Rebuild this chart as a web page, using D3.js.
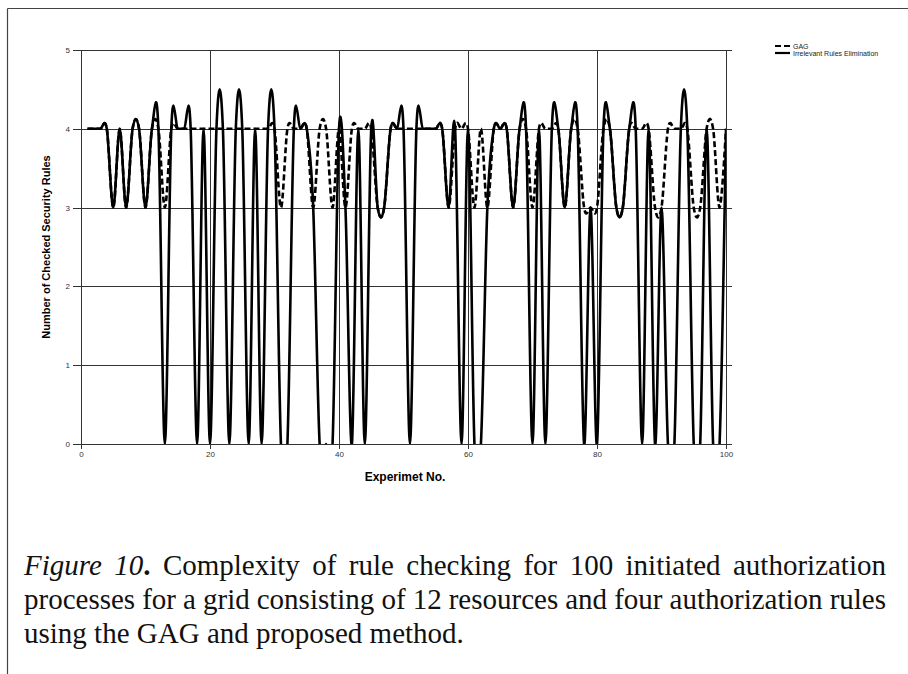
<!DOCTYPE html>
<html><head><meta charset="utf-8">
<script src="https://cdn.jsdelivr.net/npm/d3@7/dist/d3.min.js"></script>
<style>
html,body{margin:0;padding:0;background:#fff;}
svg{display:block;}
</style></head>
<body>
<svg id="chart" width="908" height="674"></svg>
<script>
// ---- data ----
const experiments = d3.range(1, 101);
const gagValues = [
 4,4,4,4,3,4,3,4,4,3, 4,4,3,4,4,4,4,4,4,4,
 4,4,4,4,4,4,4,4,4,4, 3,4,4,4,4,3,4,4,3,4,
 3,4,4,4,4,3,3,4,4,4, 4,4,4,4,4,4,3,4,4,4,
 3,4,3,4,4,4,3,4,4,3, 4,4,4,4,3,4,4,3,3,3,
 4,4,3,3,4,4,4,4,3,3, 4,4,4,4,3,3,4,4,3,4
];
const ireValues = [
 4,4,4,4,3,4,3,4,4,3, 4,4,0,4,4,4,4,0,4,0,
 4,4,0,4,4,0,4,0,4,4, 0,0,4,4,4,3,0,0,0,4,
 3,0,4,0,4,3,3,4,4,4, 0,4,4,4,4,4,3,4,0,4,
 0,0,3,4,4,4,3,4,4,0, 4,0,4,4,3,4,4,0,3,0,
 4,4,3,3,4,4,0,4,0,3, 0,0,4,4,0,0,4,0,0,4
];
const seriesNames = ["GAG", "Irrelevant Rules Elimination"];
const xTicks = [0, 20, 40, 60, 80, 100];
const yTicks = [0, 1, 2, 3, 4, 5];
const captionLines = [
  {justify: true, words: [[["Figure","i"]],[["10","i"],[".","b"]],[["Complexity"]],[["of"]],[["rule"]],[["checking"]],[["for"]],[["100"]],[["initiated"]],[["authorization"]]]},
  {justify: true, words: [[["processes"]],[["for"]],[["a"]],[["grid"]],[["consisting"]],[["of"]],[["12"]],[["resources"]],[["and"]],[["four"]],[["authorization"]],[["rules"]]]},
  {justify: false, words: [[["using"]],[["the"]],[["GAG"]],[["and"]],[["proposed"]],[["method."]]]}
];

// ---- layout ----
const svg = d3.select("#chart");
const W = 908, H = 674;
const x = d3.scaleLinear().domain([0, 100]).range([81, 726]);
const y = d3.scaleLinear().domain([0, 5]).range([444, 50]);

// page frame
svg.append("line").attr("x1",7.5).attr("x2",W).attr("y1",8.5).attr("y2",8.5).attr("stroke","#444").attr("stroke-width",1.2);
svg.append("line").attr("x1",7.5).attr("x2",7.5).attr("y1",8.5).attr("y2",H).attr("stroke","#444").attr("stroke-width",1.2);

// grid
const grid = svg.append("g");
grid.selectAll("line.h").data(yTicks).join("line")
  .attr("x1", x(0) - 8).attr("x2", x(100) + 6)
  .attr("y1", d => Math.round(y(d)) + 0.5).attr("y2", d => Math.round(y(d)) + 0.5)
  .attr("stroke", "#333").attr("stroke-width", 1);
grid.selectAll("line.v").data(xTicks).join("line")
  .attr("x1", d => Math.round(x(d)) + 0.5).attr("x2", d => Math.round(x(d)) + 0.5)
  .attr("y1", y(5)).attr("y2", y(0) + 5)
  .attr("stroke", "#333").attr("stroke-width", 1);

// axes (labels only, lines drawn by grid)
const yAxis = svg.append("g").attr("transform", `translate(${x(0)},0)`)
  .call(d3.axisLeft(y).tickValues(yTicks).tickSize(0).tickPadding(11).tickFormat(d3.format("d")));
const xAxis = svg.append("g").attr("transform", `translate(0,${y(0)})`)
  .call(d3.axisBottom(x).tickValues(xTicks).tickSize(0).tickPadding(7).tickFormat(d3.format("d")));
[yAxis, xAxis].forEach(a => {
  a.select(".domain").remove();
  a.selectAll("text").attr("font-family", "'Liberation Sans', Arial, sans-serif")
    .attr("font-size", 8).attr("fill", "#333");
});

// clip
svg.append("clipPath").attr("id", "plotClip").append("rect")
  .attr("x", x(0)).attr("y", y(5) - 2).attr("width", x(100) - x(0)).attr("height", y(0) - y(5) + 2);

const line = d3.line()
  .x((d, i) => x(experiments[i]))
  .y(d => y(d))
  .curve(d3.curveCardinal.tension(0));

const plot = svg.append("g").attr("clip-path", "url(#plotClip)");
plot.append("path").datum(gagValues).attr("d", line)
  .attr("fill", "none").attr("stroke", "#000").attr("stroke-width", 2.6)
  .attr("stroke-dasharray", "6,3");
plot.append("path").datum(ireValues).attr("d", line)
  .attr("fill", "none").attr("stroke", "#000").attr("stroke-width", 2.6)
  .attr("stroke-linejoin", "round");

// axis titles
svg.append("text").attr("x", 405).attr("y", 481).attr("text-anchor", "middle")
  .attr("font-family", "'Liberation Sans', Arial, sans-serif").attr("font-weight", "bold")
  .attr("font-size", 12).text("Experimet No.");
svg.append("text").attr("transform", "translate(50,247) rotate(-90)").attr("text-anchor", "middle")
  .attr("font-family", "'Liberation Sans', Arial, sans-serif").attr("font-weight", "bold")
  .attr("font-size", 11).text("Number of Checked Security Rules");

// legend
const legend = svg.append("g").attr("transform", "translate(775,46)");
seriesNames.forEach((name, i) => {
  const g = legend.append("g").attr("transform", `translate(0,${i * 7})`);
  g.append("line").attr("x1", 0).attr("x2", 15).attr("y1", 0).attr("y2", 0)
    .attr("stroke", "#000").attr("stroke-width", 2.2)
    .attr("stroke-dasharray", i === 0 ? "6,3" : null);
  g.append("text").attr("x", 18).attr("y", 2.5)
    .attr("font-family", "'Liberation Sans', Arial, sans-serif").attr("font-size", 7)
    .attr("fill", "#222").text(name);
});

// caption (justified)
const capLeft = 24, capRight = 886, capBase = [575, 609, 643], capSize = 29;
captionLines.forEach((ln, li) => {
  const widths = [];
  const nodes = ln.words.map(segs => {
    const t = svg.append("text").attr("y", capBase[li])
      .attr("font-family", "'Liberation Serif', 'Times New Roman', serif")
      .attr("font-size", capSize).attr("fill", "#111");
    segs.forEach(s => {
      const ts = t.append("tspan").text(s[0]);
      if (s[1] === "i") ts.attr("font-style", "italic");
      if (s[1] === "b") ts.attr("font-weight", "bold");
    });
    widths.push(t.node().getComputedTextLength());
    return t;
  });
  const total = d3.sum(widths);
  const gap = ln.justify ? (capRight - capLeft - total) / (nodes.length - 1) : capSize * 0.25;
  let cx = capLeft;
  nodes.forEach((t, k) => { t.attr("x", cx); cx += widths[k] + gap; });
});
</script>
</body></html>
